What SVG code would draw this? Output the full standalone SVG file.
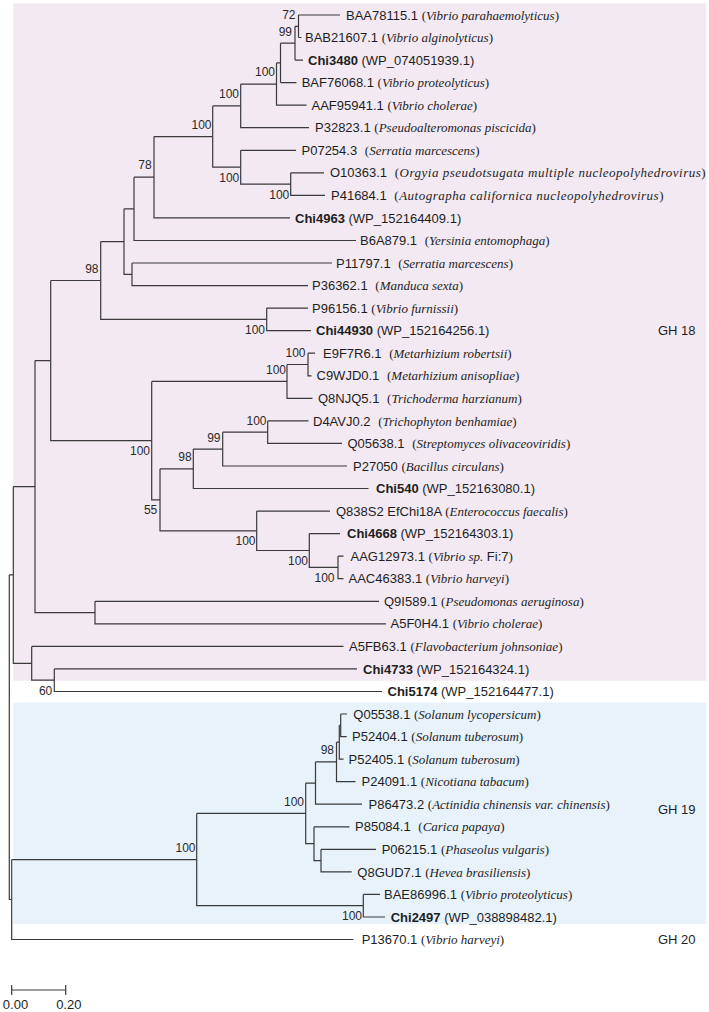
<svg xmlns="http://www.w3.org/2000/svg" width="709" height="1012" viewBox="0 0 709 1012">
<style>
.lf{font-family:"Liberation Sans",Arial,sans-serif;font-size:13px;fill:#1e1e1e}
.b{font-weight:bold}
.sr{font-family:"Liberation Serif","Times New Roman",serif}
.it{font-style:italic}
.ws{letter-spacing:0.5px}
.bs{font-family:"Liberation Sans",Arial,sans-serif;font-size:12px;fill:#2a2a2a;text-anchor:end}
.gh{font-family:"Liberation Sans",Arial,sans-serif;font-size:13px;fill:#1e1e1e}
.cn path{fill:none;stroke:#3a3a3a;stroke-width:1.2}
</style>
<rect id="gh18-bg" x="13.3" y="3.3" width="693" height="677.4" fill="#f3e9f2"/>
<rect id="gh19-bg" x="13.3" y="702.7" width="693" height="221.3" fill="#e8f2fb"/>
<g id="connectors" class="cn">
<path d="M298.5,15V37.5M298.5,15H340M298.5,37.5H301.5"/>
<path d="M295,26.3V60.1M295,26.3H298.5M295,60.1H303"/>
<path d="M280.5,43.2V82.6M280.5,43.2H295M280.5,82.6H296.5"/>
<path d="M276.5,62.9V105.2H306.5M276.5,62.9H280.5"/>
<path d="M240.7,84.05V127.7H309M240.7,84.05H276.5"/>
<path d="M290.7,172.8V195.4H325M290.7,172.8H324"/>
<path d="M240.7,150.3V184.1H290.7M240.7,150.3H296"/>
<path d="M212.7,105.9V167.2H240.7M212.7,105.9H240.7"/>
<path d="M154,136.55V217.9H290M154,136.55H212.7"/>
<path d="M134,177.2V240.5H356M134,177.2H154"/>
<path d="M132,263V285.6H308M132,263H332"/>
<path d="M124,208.85V274.3H132M124,208.85H134"/>
<path d="M266.7,308.1V330.7H311M266.7,308.1H308"/>
<path d="M100.7,241.6V319.4H266.7M100.7,241.6H124"/>
<path d="M308,353.2V375.8H311.5M308,353.2H315"/>
<path d="M287,364.5V398.3H312.5M287,364.5H308"/>
<path d="M267.7,420.9V443.4H342M267.7,420.9H308.5"/>
<path d="M222.7,432.15V466H347M222.7,432.15H267.7"/>
<path d="M193.3,449.1V488.5H368.5M193.3,449.1H222.7"/>
<path d="M338,556.2V578.7H343.5M338,556.2H343.5"/>
<path d="M309.3,533.6V567.45H338M309.3,533.6H340"/>
<path d="M256.7,511.1V550.5H309.3M256.7,511.1H330"/>
<path d="M160,468.8V530.8H256.7M160,468.8H193.3"/>
<path d="M151.7,381.4V499.8H160M151.7,381.4H287"/>
<path d="M50.7,280.5V440.6H151.7M50.7,280.5H100.7"/>
<path d="M95,601.3V623.8H386M95,601.3H379"/>
<path d="M35,360.55V612.55H95M35,360.55H50.7"/>
<path d="M54.3,668.9V691.5H382M54.3,668.9H357"/>
<path d="M31.7,646.4V680.2H54.3M31.7,646.4H343.5"/>
<path d="M13.3,486.55V663.3H31.7M13.3,486.55H35"/>
<path d="M340.7,714V736.6H346.7M340.7,714H347"/>
<path d="M339.3,725.3V759.1H343.5M339.3,725.3H340.7"/>
<path d="M336.5,742.2V781.7H355.5M336.5,742.2H339.3"/>
<path d="M315.5,761.95V804.2H362M315.5,761.95H336.5"/>
<path d="M321,849.3V871.9H351.7M321,849.3H376"/>
<path d="M314,826.8V860.6H321M314,826.8H349.5"/>
<path d="M305.7,783.1V843.7H314M305.7,783.1H315.5"/>
<path d="M363.3,894.4V917H385M363.3,894.4H380"/>
<path d="M196.7,813.4V905.7H363.3M196.7,813.4H305.7"/>
<path d="M11.7,859.55V939.5H353.5M11.7,859.55H196.7"/>
<path d="M9.3,574.9V899.5H11.7M9.3,574.9H13.3"/>
</g>
<g id="leaves">
<g id="L1"><text class="lf" x="346" y="19.6">BAA78115.1 <tspan class="sr">(<tspan class="it">Vibrio parahaemolyticus</tspan>)</tspan></text></g>
<g id="L2"><text class="lf" x="305" y="42.1">BAB21607.1 <tspan class="sr">(<tspan class="it">Vibrio alginolyticus</tspan>)</tspan></text></g>
<g id="L3"><text class="lf" x="308" y="64.7"><tspan class="b">Chi3480</tspan> (WP_074051939.1)</text></g>
<g id="L4"><text class="lf" x="301.7" y="87.2">BAF76068.1 <tspan class="sr">(<tspan class="it">Vibrio proteolyticus</tspan>)</tspan></text></g>
<g id="L5"><text class="lf" x="311.5" y="109.8">AAF95941.1 <tspan class="sr">(<tspan class="it">Vibrio cholerae</tspan>)</tspan></text></g>
<g id="L6"><text class="lf" x="315" y="132.3">P32823.1 <tspan class="sr">(<tspan class="it">Pseudoalteromonas piscicida</tspan>)</tspan></text></g>
<g id="L7"><text class="lf" x="301.5" y="154.9">P07254.3 <tspan class="sr" dx="4">(<tspan class="it">Serratia marcescens</tspan>)</tspan></text></g>
<g id="L8"><text class="lf" x="330" y="177.4">O10363.1 <tspan class="sr ws" dx="4">(<tspan class="it">Orgyia pseudotsugata multiple nucleopolyhedrovirus</tspan>)</tspan></text></g>
<g id="L9"><text class="lf" x="331" y="200">P41684.1 <tspan class="sr ws" dx="4">(<tspan class="it">Autographa californica nucleopolyhedrovirus</tspan>)</tspan></text></g>
<g id="L10"><text class="lf" x="295" y="222.5"><tspan class="b">Chi4963</tspan> (WP_152164409.1)</text></g>
<g id="L11"><text class="lf" x="360" y="245.1">B6A879.1 <tspan class="sr" dx="4">(<tspan class="it">Yersinia entomophaga</tspan>)</tspan></text></g>
<g id="L12"><text class="lf" x="336" y="267.6">P11797.1 <tspan class="sr" dx="4">(<tspan class="it">Serratia marcescens</tspan>)</tspan></text></g>
<g id="L13"><text class="lf" x="312" y="290.2">P36362.1 <tspan class="sr" dx="4">(<tspan class="it">Manduca sexta</tspan>)</tspan></text></g>
<g id="L14"><text class="lf" x="312" y="312.7">P96156.1 <tspan class="sr">(<tspan class="it">Vibrio furnissii</tspan>)</tspan></text></g>
<g id="L15"><text class="lf" x="316" y="335.3"><tspan class="b">Chi44930</tspan> (WP_152164256.1)</text></g>
<g id="L16"><text class="lf" x="323" y="357.8">E9F7R6.1 <tspan class="sr" dx="4">(<tspan class="it">Metarhizium robertsii</tspan>)</tspan></text></g>
<g id="L17"><text class="lf" x="316.5" y="380.4">C9WJD0.1 <tspan class="sr" dx="4">(<tspan class="it">Metarhizium anisopliae</tspan>)</tspan></text></g>
<g id="L18"><text class="lf" x="318" y="402.9">Q8NJQ5.1 <tspan class="sr" dx="4">(<tspan class="it">Trichoderma harzianum</tspan>)</tspan></text></g>
<g id="L19"><text class="lf" x="313" y="425.5">D4AVJ0.2 <tspan class="sr" dx="4">(<tspan class="it">Trichophyton benhamiae</tspan>)</tspan></text></g>
<g id="L20"><text class="lf" x="347.5" y="448">Q05638.1 <tspan class="sr" dx="4">(<tspan class="it">Streptomyces olivaceoviridis</tspan>)</tspan></text></g>
<g id="L21"><text class="lf" x="353" y="470.6">P27050 <tspan class="sr">(<tspan class="it">Bacillus circulans</tspan>)</tspan></text></g>
<g id="L22"><text class="lf" x="376" y="493.1"><tspan class="b">Chi540</tspan> (WP_152163080.1)</text></g>
<g id="L23"><text class="lf" x="336" y="515.7">Q838S2 EfChi18A <tspan class="sr">(<tspan class="it">Enterococcus faecalis</tspan>)</tspan></text></g>
<g id="L24"><text class="lf" x="347" y="538.2"><tspan class="b">Chi4668</tspan> (WP_152164303.1)</text></g>
<g id="L25"><text class="lf" x="350.5" y="560.8">AAG12973.1 <tspan class="sr">(<tspan class="it">Vibrio sp.</tspan></tspan> Fi:7<tspan class="sr">)</tspan></text></g>
<g id="L26"><text class="lf" x="348.5" y="583.3">AAC46383.1 <tspan class="sr">(<tspan class="it">Vibrio harveyi</tspan>)</tspan></text></g>
<g id="L27"><text class="lf" x="384" y="605.9">Q9I589.1 <tspan class="sr">(<tspan class="it">Pseudomonas aeruginosa</tspan>)</tspan></text></g>
<g id="L28"><text class="lf" x="390.5" y="628.4">A5F0H4.1 <tspan class="sr">(<tspan class="it">Vibrio cholerae</tspan>)</tspan></text></g>
<g id="L29"><text class="lf" x="349" y="651">A5FB63.1 <tspan class="sr">(<tspan class="it">Flavobacterium johnsoniae</tspan>)</tspan></text></g>
<g id="L30"><text class="lf" x="363" y="673.5"><tspan class="b">Chi4733</tspan> (WP_152164324.1)</text></g>
<g id="L31"><text class="lf" x="387.5" y="696.1"><tspan class="b">Chi5174</tspan> (WP_152164477.1)</text></g>
<g id="L32"><text class="lf" x="353.3" y="718.6">Q05538.1 <tspan class="sr">(<tspan class="it">Solanum lycopersicum</tspan>)</tspan></text></g>
<g id="L33"><text class="lf" x="352" y="741.2">P52404.1 <tspan class="sr">(<tspan class="it">Solanum tuberosum</tspan>)</tspan></text></g>
<g id="L34"><text class="lf" x="348.5" y="763.7">P52405.1 <tspan class="sr">(<tspan class="it">Solanum tuberosum</tspan>)</tspan></text></g>
<g id="L35"><text class="lf" x="361.5" y="786.3">P24091.1 <tspan class="sr">(<tspan class="it">Nicotiana tabacum</tspan>)</tspan></text></g>
<g id="L36"><text class="lf" x="368.5" y="808.8">P86473.2 <tspan class="sr">(<tspan class="it">Actinidia chinensis var. chinensis</tspan>)</tspan></text></g>
<g id="L37"><text class="lf" x="355" y="831.4">P85084.1 <tspan class="sr" dx="4">(<tspan class="it">Carica papaya</tspan>)</tspan></text></g>
<g id="L38"><text class="lf" x="381.7" y="853.9">P06215.1 <tspan class="sr">(<tspan class="it">Phaseolus vulgaris</tspan>)</tspan></text></g>
<g id="L39"><text class="lf" x="357.3" y="876.5">Q8GUD7.1 <tspan class="sr">(<tspan class="it">Hevea brasiliensis</tspan>)</tspan></text></g>
<g id="L40"><text class="lf" x="384" y="899">BAE86996.1 <tspan class="sr">(<tspan class="it">Vibrio proteolyticus</tspan>)</tspan></text></g>
<g id="L41"><text class="lf" x="390.7" y="921.6"><tspan class="b">Chi2497</tspan> (WP_038898482.1)</text></g>
<g id="L42"><text class="lf" x="361.7" y="944.1">P13670.1 <tspan class="sr">(<tspan class="it">Vibrio harveyi</tspan>)</tspan></text></g>
</g>
<g id="bootstrap">
<g id="n72"><text class="bs" x="295.5" y="19.3">72</text></g>
<g id="n99a"><text class="bs" x="292" y="36">99</text></g>
<g id="nb"><text class="bs" x="275" y="76.3">100</text></g>
<g id="nc"><text class="bs" x="239" y="98.3">100</text></g>
<g id="nf"><text class="bs" x="211.5" y="128.6">100</text></g>
<g id="nd"><text class="bs" x="239.3" y="181.6">100</text></g>
<g id="ne"><text class="bs" x="289.3" y="198.6">100</text></g>
<g id="n78"><text class="bs" x="151.7" y="169.3">78</text></g>
<g id="n98a"><text class="bs" x="98.5" y="272.6">98</text></g>
<g id="nj"><text class="bs" x="265" y="333.6">100</text></g>
<g id="nl"><text class="bs" x="305.5" y="357">100</text></g>
<g id="nm"><text class="bs" x="286" y="374.3">100</text></g>
<g id="no"><text class="bs" x="266.5" y="424.8">100</text></g>
<g id="n99b"><text class="bs" x="220.5" y="441.6">99</text></g>
<g id="nn"><text class="bs" x="150" y="455">100</text></g>
<g id="n98b"><text class="bs" x="191.7" y="461">98</text></g>
<g id="n55"><text class="bs" x="157.3" y="514.3">55</text></g>
<g id="np"><text class="bs" x="255.5" y="545">100</text></g>
<g id="nq"><text class="bs" x="308" y="564.9">100</text></g>
<g id="nr"><text class="bs" x="334.5" y="581.7">100</text></g>
<g id="n60"><text class="bs" x="52.3" y="694.8">60</text></g>
<g id="n98c"><text class="bs" x="334" y="754.3">98</text></g>
<g id="nd2"><text class="bs" x="304" y="805.9">100</text></g>
<g id="ng"><text class="bs" x="195.5" y="851.9">100</text></g>
<g id="nh"><text class="bs" x="362" y="920.3">100</text></g>
</g>
<g id="groups">
<text class="gh" x="658" y="335.3">GH 18</text>
<text class="gh" x="658" y="813.6">GH 19</text>
<text class="gh" x="658" y="944">GH 20</text>
</g>
<g id="scale">
<path d="M11.7,990H65.7M11.7,985V995M65.7,985V995" fill="none" stroke="#3a3a3a" stroke-width="1.2"/>
<text class="gh" x="15.5" y="1008.6" text-anchor="middle">0.00</text>
<text class="gh" x="68.8" y="1008.6" text-anchor="middle">0.20</text>
</g>
</svg>
